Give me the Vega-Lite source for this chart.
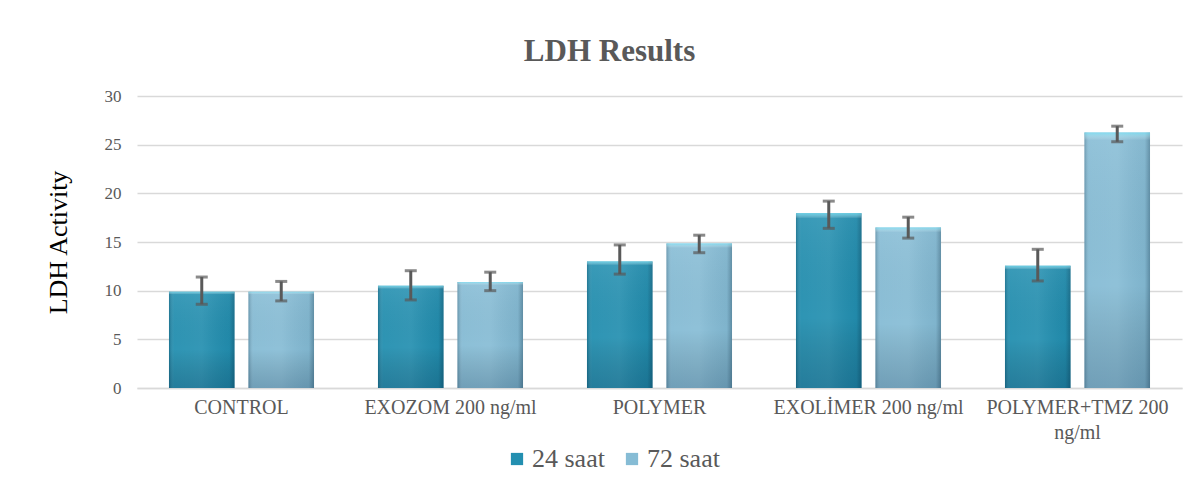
{
  "$schema": "https://vega.github.io/schema/vega-lite/v6.json",
  "width": 1045,
  "height": 292,
  "autosize": {"type": "none"},
  "padding": {"left": 137, "top": 96, "right": 15, "bottom": 97},
  "background": "white",
  "config": {
    "font": "Liberation Serif",
    "view": {"stroke": null},
    "legend": {"labelFont": "Liberation Serif"},
    "axis": {"labelFont": "Liberation Serif", "titleFont": "Liberation Serif"}
  },
  "title": {
    "text": "LDH Results",
    "font": "Liberation Serif",
    "fontSize": 31,
    "fontWeight": "bold",
    "color": "#595959",
    "anchor": "middle",
    "frame": "group",
    "dx": -50,
    "offset": 19
  },
  "data": {
    "values": [
      {"group": "CONTROL", "series": "24 saat", "value": 9.9, "lo": 8.6, "hi": 11.4},
      {"group": "CONTROL", "series": "72 saat", "value": 9.9, "lo": 8.95, "hi": 10.95},
      {"group": "EXOZOM 200 ng/ml", "series": "24 saat", "value": 10.5, "lo": 9.05, "hi": 12.05},
      {"group": "EXOZOM 200 ng/ml", "series": "72 saat", "value": 10.9, "lo": 10.0, "hi": 11.9},
      {"group": "POLYMER", "series": "24 saat", "value": 13.0, "lo": 11.7, "hi": 14.7},
      {"group": "POLYMER", "series": "72 saat", "value": 14.85, "lo": 13.9, "hi": 15.7},
      {"group": "EXOLİMER 200 ng/ml", "series": "24 saat", "value": 17.95, "lo": 16.4, "hi": 19.2},
      {"group": "EXOLİMER 200 ng/ml", "series": "72 saat", "value": 16.5, "lo": 15.4, "hi": 17.55},
      {"group": "POLYMER+TMZ 200 ng/ml", "series": "24 saat", "value": 12.55, "lo": 11.0, "hi": 14.25},
      {"group": "POLYMER+TMZ 200 ng/ml", "series": "72 saat", "value": 26.25, "lo": 25.3, "hi": 26.9}
    ]
  },
  "encoding": {
    "x": {
      "field": "group",
      "type": "nominal",
      "sort": null,
      "scale": {"paddingInner": 0.306, "paddingOuter": 0.153},
      "axis": {
        "title": null,
        "labelAngle": 0,
        "labelFont": "Liberation Serif",
        "labelFontSize": 20,
        "labelColor": "#595959",
        "labelPadding": 9,
        "labelLimit": 0,
        "ticks": false,
        "domainColor": "#d9d9d9",
        "domainWidth": 1.5,
        "labelExpr": "datum.value == 'POLYMER+TMZ 200 ng/ml' ? ['POLYMER+TMZ 200', 'ng/ml'] : datum.value",
        "labelLineHeight": 25
      }
    },
    "xOffset": {
      "field": "series",
      "type": "nominal",
      "scale": {"paddingInner": 0.175, "paddingOuter": 0}
    }
  },
  "layer": [
    {
      "mark": {"type": "bar"},
      "encoding": {
        "y": {
          "field": "value",
          "type": "quantitative",
          "scale": {"domain": [0, 30]},
          "axis": {
            "title": "LDH Activity",
            "titleFont": "Liberation Serif",
            "titleFontSize": 26,
            "titleFontWeight": "normal",
            "titleColor": "#000000",
            "titlePadding": 33,
            "values": [0, 5, 10, 15, 20, 25, 30],
            "labelFont": "Liberation Serif",
            "labelFontSize": 17,
            "labelColor": "#595959",
            "labelPadding": 16,
            "ticks": false,
            "domain": false,
            "grid": true,
            "gridColor": "#d9d9d9",
            "gridWidth": 1.5
          }
        },
        "color": {
          "field": "series",
          "type": "nominal",
          "scale": {"domain": ["24 saat", "72 saat"], "range": ["#238FB0", "#86BCD5"]},
          "legend": {
            "title": null,
            "orient": "none",
            "direction": "horizontal",
            "legendX": 367,
            "legendY": 350,
            "symbolType": "square",
            "symbolSize": 150,
            "symbolStrokeWidth": 0,
            "labelFont": "Liberation Serif",
            "labelFontSize": 26,
            "labelColor": "#595959",
            "labelOffset": 2,
            "labelLimit": 0,
            "columnPadding": 14
          }
        }
      }
    },
    {
      "mark": {
        "type": "bar",
        "fill": {
          "gradient": "linear",
          "x1": 0, "y1": 0, "x2": 1, "y2": 0,
          "stops": [
            {"offset": 0, "color": "rgba(0,30,50,0.25)"},
            {"offset": 0.08, "color": "rgba(255,255,255,0.05)"},
            {"offset": 0.5, "color": "rgba(255,255,255,0.08)"},
            {"offset": 0.92, "color": "rgba(0,30,50,0.05)"},
            {"offset": 1, "color": "rgba(0,30,50,0.3)"}
          ]
        }
      },
      "encoding": {"y": {"field": "value", "type": "quantitative"}}
    },
    {
      "mark": {
        "type": "bar",
        "fill": {
          "gradient": "linear",
          "x1": 0, "y1": 0, "x2": 0, "y2": 1,
          "stops": [
            {"offset": 0, "color": "rgba(120,230,250,0.7)"},
            {"offset": 0.03, "color": "rgba(255,255,255,0.05)"},
            {"offset": 0.6, "color": "rgba(0,0,0,0)"},
            {"offset": 1, "color": "rgba(0,30,60,0.2)"}
          ]
        }
      },
      "encoding": {"y": {"field": "value", "type": "quantitative"}}
    },
    {
      "mark": {"type": "rule", "color": "#595959", "strokeWidth": 3},
      "encoding": {
        "y": {"field": "lo", "type": "quantitative"},
        "y2": {"field": "hi"}
      }
    },
    {
      "mark": {"type": "tick", "color": "#595959", "size": 12, "thickness": 3, "orient": "horizontal"},
      "encoding": {"y": {"field": "lo", "type": "quantitative"}}
    },
    {
      "mark": {"type": "tick", "color": "#595959", "size": 12, "thickness": 3, "orient": "horizontal"},
      "encoding": {"y": {"field": "hi", "type": "quantitative"}}
    }
  ]
}
